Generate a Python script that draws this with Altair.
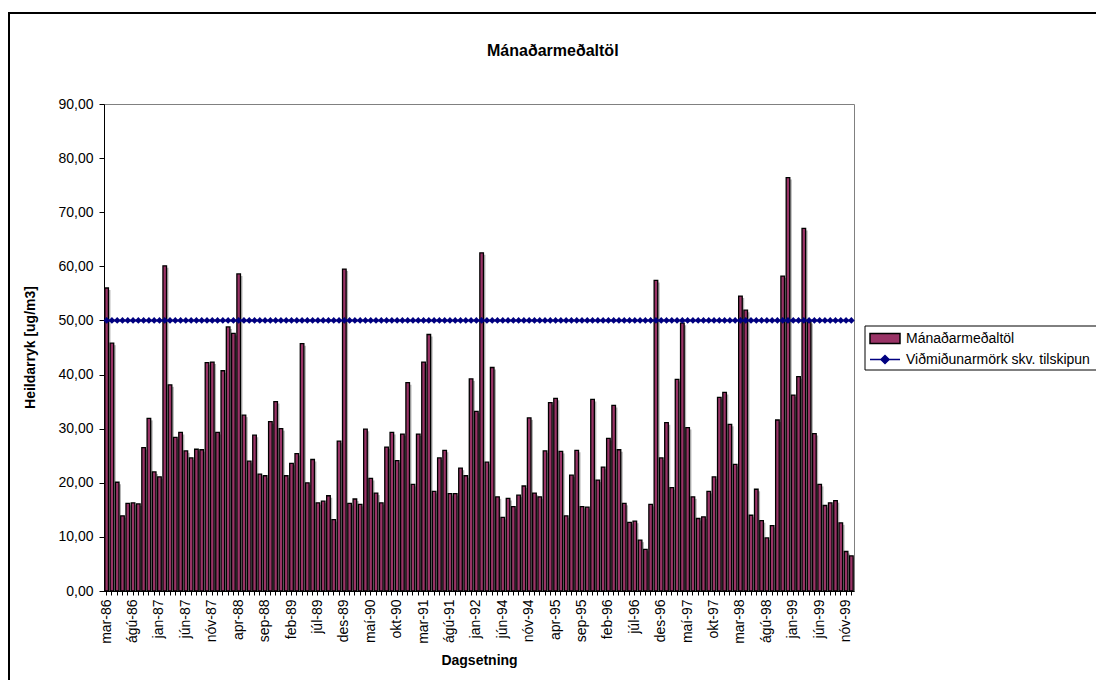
import altair as alt
import pandas as pd

FONT = "Liberation Sans"

MONTH_NAMES = ["jan", "feb", "mar", "apr", "maí", "jún", "júl", "ágú", "sep", "okt", "nóv", "des"]
# (start year, start month, end year, end month) runs of months present in the series
PERIODS = [(1986, 3, 1992, 3), (1994, 4, 1999, 12)]

CATEGORIES = []
for y0, m0, y1, m1 in PERIODS:
    y, m = y0, m0
    while (y, m) <= (y1, m1):
        CATEGORIES.append(f"{MONTH_NAMES[m - 1]}-{str(y)[2:]}")
        m += 1
        if m > 12:
            m, y = 1, y + 1

VALUES = [
    56.0, 45.8, 20.1, 13.9, 16.2, 16.3, 16.1, 26.5, 31.9, 22.0,
    21.1, 60.1, 38.1, 28.4, 29.3, 25.9, 24.6, 26.2, 26.1, 42.2,
    42.3, 29.3, 40.7, 48.8, 47.6, 58.6, 32.5, 24.0, 28.8, 21.6,
    21.3, 31.3, 35.0, 30.0, 21.3, 23.6, 25.4, 45.7, 20.0, 24.3,
    16.3, 16.6, 17.6, 13.2, 27.7, 59.5, 16.2, 17.0, 16.0, 29.9,
    20.8, 18.1, 16.3, 26.6, 29.3, 24.1, 29.0, 38.5, 19.7, 29.0,
    42.3, 47.4, 18.4, 24.6, 26.0, 18.0, 18.0, 22.7, 21.3, 39.2,
    33.2, 62.5, 23.8, 41.3, 17.4, 13.6, 17.1, 15.6, 17.7, 19.4,
    32.0, 18.1, 17.4, 25.9, 34.8, 35.6, 25.8, 13.9, 21.4, 26.0,
    15.6, 15.5, 35.4, 20.5, 22.9, 28.2, 34.3, 26.1, 16.2, 12.7,
    12.9, 9.4, 7.7, 16.0, 57.4, 24.6, 31.1, 19.1, 39.1, 49.5,
    30.2, 17.4, 13.4, 13.7, 18.4, 21.1, 35.8, 36.7, 30.8, 23.4,
    54.5, 51.9, 14.0, 18.8, 13.0, 9.8, 12.1, 31.6, 58.2, 76.4,
    36.2, 39.6, 67.0, 49.8, 29.1, 19.7, 15.8, 16.3, 16.7, 12.6,
    7.3, 6.5,
]
LIMIT = 50.0
SHOWN_LABELS = CATEGORIES[::5]
Y_TICKS = [0, 10, 20, 30, 40, 50, 60, 70, 80, 90]

TITLE = "Mánaðarmeðaltöl"
BAR_NAME = "Mánaðarmeðaltöl"
LINE_NAME = "Viðmiðunarmörk skv. tilskipun"
BAR_COLOR = "#993366"
LINE_COLOR = "#000080"

df = pd.DataFrame({
    "month": CATEGORIES,
    "value": VALUES,
    "limit": [LIMIT] * len(CATEGORIES),
    "bar_series": [BAR_NAME] * len(CATEGORIES),
    "line_series": [LINE_NAME] * len(CATEGORIES),
})

shown_js = "[" + ",".join(f"'{s}'" for s in SHOWN_LABELS) + "]"

x_enc = alt.X(
    "month:N",
    sort=CATEGORIES,
    scale=alt.Scale(paddingInner=0.32, paddingOuter=0.16),
    axis=alt.Axis(
        title="Dagsetning",
        labelAngle=-90,
        labelAlign="right",
        labelBaseline="middle",
        labelExpr=f"indexof({shown_js}, datum.value) >= 0 ? datum.value : ''",
        labelOverlap=False,
        labelFontSize=14,
        labelPadding=4,
        tickSize=4,
        titleFontSize=14,
        titleFontWeight="bold",
        titleX=375,
        titleY=69,
        titleBaseline="middle",
    ),
)

y_enc = alt.Y(
    "value:Q",
    scale=alt.Scale(domain=[0, 90], nice=False),
    axis=alt.Axis(
        title="Heildarryk [ug/m3]",
        values=Y_TICKS,
        labelExpr="replace(format(datum.value, '.2f'), '.', ',')",
        labelFontSize=14,
        labelPadding=6,
        tickSize=5,
        titleFontSize=14,
        titleFontWeight="bold",
        titleX=-74,
        titleY=243,
        titleBaseline="middle",
    ),
)

LEG_X, LEG_Y, LEG_W, LEG_H = 761, 222, 240, 44


def make_legend(dy, sym, fill, stroke):
    return alt.Legend(
        title=None,
        orient="none",
        legendX=LEG_X + 4,
        legendY=LEG_Y + 2 + dy,
        padding=0,
        labelFont=FONT,
        labelFontSize=14,
        labelColor="black",
        labelOffset=5,
        labelLimit=400,
        symbolType=sym,
        symbolSize=900,
        symbolFillColor=fill,
        symbolStrokeColor=stroke,
        symbolStrokeWidth=1.5,
        symbolOpacity=1,
        clipHeight=21,
    )


bar_path = "M-1,-0.33H1V0.33H-1Z"
line_path = "M-1,0H1M0,-0.27L0.27,0L0,0.27L-0.27,0Z"

base = alt.Chart(df)
one = pd.DataFrame({"k": [0]})

legend_box = alt.Chart(one).mark_rect(
    fill="white", stroke="black", strokeWidth=1, clip=False
).encode(
    x=alt.value(LEG_X), x2=alt.value(LEG_X + LEG_W),
    y=alt.value(LEG_Y), y2=alt.value(LEG_Y + LEG_H),
)

title_text = alt.Chart(one).mark_text(
    font=FONT, fontSize=16, fontWeight="bold", color="black",
    align="left", baseline="alphabetic", clip=False,
).encode(x=alt.value(383), y=alt.value(-48), text=alt.value(TITLE))

shadow = base.mark_bar(color="#b4b4b4", xOffset=2, yOffset=2, clip=True).encode(
    x=x_enc, y=y_enc
)

bars = base.mark_bar(stroke="black", strokeWidth=1.3, opacity=1).encode(
    x=x_enc,
    y=y_enc,
    color=alt.Color(
        "bar_series:N",
        scale=alt.Scale(domain=[BAR_NAME], range=[BAR_COLOR]),
        legend=make_legend(0, bar_path, BAR_COLOR, "black"),
    ),
)

line = base.mark_line(
    strokeWidth=2,
    point=alt.OverlayMarkDef(shape="diamond", size=45, filled=True, opacity=1),
).encode(
    x=x_enc,
    y=alt.Y("limit:Q"),
    color=alt.Color(
        "line_series:N",
        scale=alt.Scale(domain=[LINE_NAME], range=[LINE_COLOR]),
        legend=make_legend(21, line_path, LINE_COLOR, LINE_COLOR),
    ),
)

border_top = alt.Chart(one).mark_rule(color="black", strokeWidth=2, clip=False).encode(
    x=alt.value(-96), x2=alt.value(1100), y=alt.value(-91)
)
border_left = alt.Chart(one).mark_rule(color="black", strokeWidth=2, clip=False).encode(
    x=alt.value(-95), y=alt.value(-92), y2=alt.value(700)
)

chart = (
    alt.layer(legend_box, title_text, shadow, bars, line, border_top, border_left)
    .resolve_scale(color="independent")
    .properties(
        width=750,
        height=487,
        padding={"left": 96, "top": 96, "right": 242, "bottom": 89},
        autosize=alt.AutoSizeParams(type="none"),
        background="white",
    )
    .configure_view(stroke="#808080", strokeWidth=1)
    .configure_axis(
        domainColor="black",
        domainWidth=1,
        tickColor="black",
        labelColor="black",
        titleColor="black",
        labelFont=FONT,
        titleFont=FONT,
        grid=False,
    )
)

chart.save("out.html", embed_options={"renderer": "svg", "actions": False})
